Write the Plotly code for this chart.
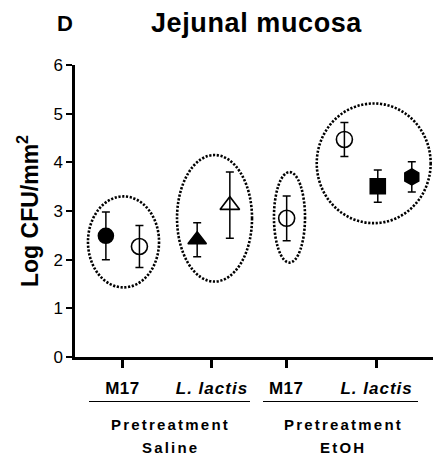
import plotly.graph_objects as go

# Jejunal mucosa bacterial load (log CFU/mm^2), mean +/- SEM per treatment group
category_labels = ["M17", "L. lactis", "M17", "L. lactis"]
group_titles = ["Pretreatment", "Pretreatment"]
group_names = ["Saline", "EtOH"]

series_names = [
    "Saline / M17 (a)", "Saline / M17 (b)",
    "Saline / L. lactis (a)", "Saline / L. lactis (b)",
    "EtOH / M17",
    "EtOH / L. lactis (a)", "EtOH / L. lactis (b)", "EtOH / L. lactis (c)",
]
means = [2.49, 2.27, 2.41, 3.12, 2.85, 4.47, 3.51, 3.70]
sems = [0.49, 0.43, 0.35, 0.68, 0.46, 0.35, 0.33, 0.31]

# ---- layout geometry -------------------------------------------------------
FONT = "Liberation Sans, Arial, sans-serif"
W, H = 433, 459
ML, MR, MT, MB = 75, 0, 65, 102
X_RANGE = [0, 4.0]
Y_RANGE = [0, 6]

tick_pos = [0.53, 1.53, 2.36, 3.37]
# (category index, horizontal offset, marker symbol, marker size) for each series
placement = [
    (0, -0.185, "circle", 15),
    (0, 0.19, "circle-open", 16),
    (1, -0.165, "triangle-up", 16),
    (1, 0.20, "triangle-up-open", 17),
    (2, 0.005, "circle-open", 16),
    (3, -0.36, "circle-open", 16),
    (3, 0.013, "square", 15),
    (3, 0.393, "hexagon", 16),
]
# dotted ellipses drawn around the clustered series: (x0, x1, y0, y1) in axis units
ellipses = [
    (0.145, 0.939, 1.43, 3.30),
    (1.140, 1.978, 1.55, 4.15),
    (2.223, 2.570, 1.94, 3.80),
    (2.701, 3.974, 2.75, 5.21),
]
# group brackets below the axis, left/right ends in pixels, and label centres
brackets_px = [(89, 250), (263, 418)]
group_label_cx = [170, 343]

fig = go.Figure()

for name, m, s, (ci, off, sym, size) in zip(series_names, means, sems, placement):
    x = tick_pos[ci] + off
    fig.add_trace(go.Scatter(
        x=[x], y=[m], name=name, mode="markers",
        marker=dict(symbol=sym, size=size, color="black",
                    line=dict(color="black", width=1.6)),
        error_y=dict(type="data", array=[s], visible=True,
                     color="black", thickness=1.5, width=4),
        showlegend=False,
    ))

for x0, x1, y0, y1 in ellipses:
    fig.add_shape(type="circle", xref="x", yref="y",
                  x0=x0, x1=x1, y0=y0, y1=y1,
                  line=dict(color="black", width=2.6, dash="2.2px,1.6px"))

pw = W - ML - MR
ph = H - MT - MB


def px_to_paper_x(px):
    return (px - ML) / pw


def px_to_paper_y(py):
    return (H - MB - py) / ph


for (bx0, bx1), cx, t1, t2 in zip(brackets_px, group_label_cx, group_titles, group_names):
    yl = px_to_paper_y(401.5)
    fig.add_shape(type="line", xref="paper", yref="paper",
                  x0=px_to_paper_x(bx0), x1=px_to_paper_x(bx1), y0=yl, y1=yl,
                  line=dict(color="black", width=1.2))
    for txt, py in ((t1, 424.5), (t2, 447)):
        fig.add_annotation(
            xref="paper", yref="paper", x=px_to_paper_x(cx), y=px_to_paper_y(py),
            xanchor="center", yanchor="middle", showarrow=False,
            text="<b><span style='letter-spacing:2.2px'>" + txt + "</span></b>",
            font=dict(family=FONT, size=15, color="black"),
        )

tick_text = []
for lab in category_labels:
    if lab.startswith("L."):
        tick_text.append("<b><i><span style='letter-spacing:1px'>" + lab + "</span></i></b>")
    else:
        tick_text.append("<b><span style='letter-spacing:0.5px'>" + lab + "</span></b>")

fig.update_layout(
    width=W, height=H,
    margin=dict(l=ML, r=MR, t=MT, b=MB, autoexpand=False),
    paper_bgcolor="white", plot_bgcolor="white",
    font=dict(family=FONT, color="black"),
    xaxis=dict(
        range=X_RANGE, showgrid=False, zeroline=False,
        showline=True, linecolor="black", linewidth=2.5,
        tickmode="array", tickvals=tick_pos, ticktext=tick_text,
        ticks="outside", ticklen=8, tickwidth=2.5, tickcolor="black",
        tickfont=dict(family=FONT, size=17, color="black"),
        ticklabelstandoff=6,
    ),
    yaxis=dict(
        range=Y_RANGE, showgrid=False, zeroline=False,
        showline=True, linecolor="black", linewidth=2.5,
        tickmode="array", tickvals=[0, 1, 2, 3, 4, 5, 6],
        ticks="outside", ticklen=6, tickwidth=2, tickcolor="black",
        tickfont=dict(family=FONT, size=17, color="black"),
    ),
)

fig.add_annotation(
    xref="paper", yref="paper", x=px_to_paper_x(28), y=0.5,
    xanchor="center", yanchor="middle", textangle=-90, showarrow=False,
    text="<b>Log CFU/mm<sup>2</sup></b>",
    font=dict(family=FONT, size=23, color="black"),
)
fig.add_annotation(
    xref="paper", yref="paper", x=px_to_paper_x(256.5), y=px_to_paper_y(23),
    xanchor="center", yanchor="middle", showarrow=False,
    text="<b><span style='letter-spacing:0.6px'>Jejunal mucosa</span></b>",
    font=dict(family=FONT, size=27, color="black"),
)
fig.add_annotation(
    xref="paper", yref="paper", x=px_to_paper_x(64.5), y=px_to_paper_y(23),
    xanchor="center", yanchor="middle", showarrow=False,
    text="<b>D</b>",
    font=dict(family=FONT, size=22, color="black"),
)

fig.write_html("out.html")
